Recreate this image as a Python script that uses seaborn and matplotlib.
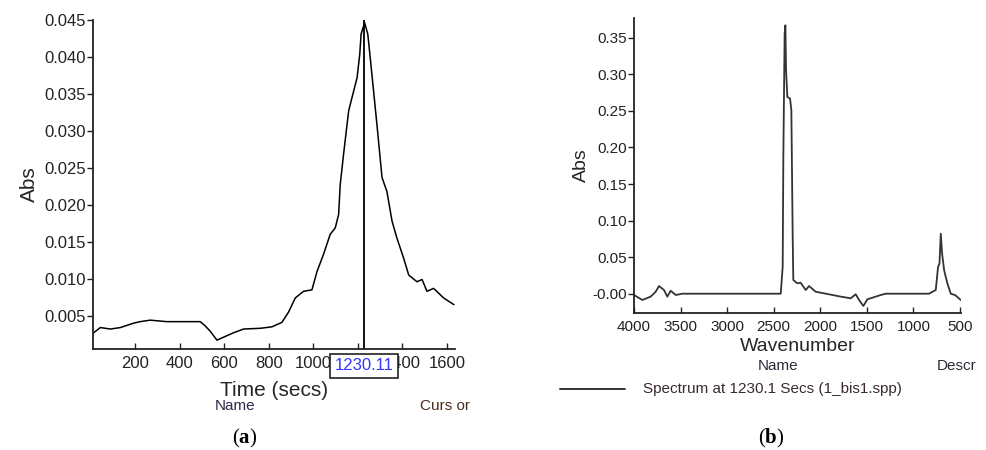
import matplotlib
matplotlib.use("Agg")
import matplotlib.pyplot as plt
import seaborn as sns
import pandas as pd

# ---- data: panel (a) time trace ----
time_s = [13, 43, 88, 133, 193, 222, 267, 342, 417, 492, 515, 537, 567, 597, 642,
          687, 762, 814, 859, 889, 897, 919, 956, 994, 1017, 1046, 1076, 1099,
          1114, 1121, 1136, 1159, 1174, 1197, 1209, 1215, 1224, 1231, 1245, 1256,
          1271, 1286, 1309, 1331, 1354, 1376, 1406, 1429, 1466, 1489, 1511, 1541,
          1586, 1632]
abs_t = [0.0027, 0.0034, 0.0032, 0.0034, 0.0040, 0.0042, 0.0044, 0.0042, 0.0042,
         0.0042, 0.0036, 0.0029, 0.0017, 0.0021, 0.0027, 0.0032, 0.0033, 0.0035,
         0.0041, 0.0055, 0.0060, 0.0074, 0.0083, 0.0085, 0.0110, 0.0133, 0.0160,
         0.0169, 0.0187, 0.0227, 0.0268, 0.0327, 0.0345, 0.0372, 0.0404, 0.0431,
         0.0440, 0.0446, 0.0431, 0.0399, 0.0354, 0.0309, 0.0237, 0.0218, 0.0178,
         0.0155, 0.0128, 0.0105, 0.0096, 0.0099, 0.0083, 0.0087, 0.0074, 0.0065]
cursor_time = 1230
cursor_label = "1230.11"

# ---- data: panel (b) spectrum ----
wavenumber = [4000, 3911, 3821, 3767, 3732, 3678, 3642, 3606, 3552, 3481, 2425,
              2404, 2397, 2383, 2375, 2368, 2354, 2325, 2311, 2297, 2290, 2247,
              2211, 2157, 2121, 2050, 1925, 1781, 1674, 1620, 1584, 1538, 1495,
              1352, 1298, 833, 761, 736, 721, 707, 693, 671, 636, 600, 554, 493]
abs_w = [-0.0018, -0.0086, -0.0040, 0.0027, 0.0105, 0.0050, -0.0040, 0.0040,
         -0.0018, 0.0, 0.0, 0.037, 0.187, 0.356, 0.367, 0.306, 0.269, 0.267,
         0.251, 0.082, 0.0187, 0.0142, 0.0150, 0.0050, 0.0105, 0.0027, -0.0004,
         -0.0040, -0.0063, -0.0008, -0.0086, -0.0168, -0.0077, -0.0018, 0.0, 0.0,
         0.005, 0.037, 0.041, 0.082, 0.055, 0.032, 0.014, 0.0, -0.0018, -0.0086]

ticks_a_x = [200, 400, 600, 800, 1000, 1200, 1400, 1600]
ticks_a_y = [0.005, 0.010, 0.015, 0.020, 0.025, 0.030, 0.035, 0.040, 0.045]
ticks_b_x = [4000, 3500, 3000, 2500, 2000, 1500, 1000, 500]
ticks_b_y = [0.00, 0.05, 0.10, 0.15, 0.20, 0.25, 0.30, 0.35]

sns.set_style("ticks")
plt.rcParams['font.family'] = ['Liberation Sans', 'DejaVu Sans']
plt.rcParams['mathtext.fontset'] = 'custom'
plt.rcParams['mathtext.rm'] = 'Liberation Serif'
plt.rcParams['mathtext.bf'] = 'Liberation Serif:bold'

W, H = 986, 450
fig = plt.figure(figsize=(W / 100, H / 100), dpi=100)
fig.patch.set_facecolor('white')

def px(x, y):
    return x / W, 1 - y / H

# ---------- panel (a) ----------
axa = fig.add_axes([93 / W, 1 - 349 / H, 362 / W, 329 / H])
dfa = pd.DataFrame({"t": time_s, "a": abs_t})
sns.lineplot(data=dfa, x="t", y="a", ax=axa, color="black", lw=1.1)
axa.set_xlim(10, 1637)
axa.set_ylim(0.0005, 0.045)
axa.set_xticks(ticks_a_x)
axa.set_xticklabels([str(v) for v in ticks_a_x])
axa.set_yticks(ticks_a_y)
axa.set_yticklabels([f"{v:.3f}" for v in ticks_a_y])
axa.axvline(cursor_time, color="black", lw=1.3)
axa.set_xlabel("Time (secs)", fontsize=15, labelpad=7)
axa.set_ylabel("Abs", fontsize=15, labelpad=4)

# ---------- panel (b) ----------
axb = fig.add_axes([634 / W, 1 - 313 / H, 327 / W, 295 / H])
dfb = pd.DataFrame({"w": wavenumber, "a": abs_w})
sns.lineplot(data=dfb, x="w", y="a", ax=axb, color="#333333", lw=1.3, sort=False)
axb.set_xlim(4000, 490)
axb.set_ylim(-0.0264, 0.377)
axb.set_xticks(ticks_b_x)
axb.set_xticklabels([str(v) for v in ticks_b_x])
axb.set_yticks(ticks_b_y)
axb.set_yticklabels([f"{v:.2f}" if v > 0 else "-0.00" for v in ticks_b_y])
axb.set_xlabel("Wavenumber", fontsize=14, labelpad=3)
axb.set_ylabel("Abs", fontsize=14, labelpad=2)

for ax, fs in ((axa, 12), (axb, 11)):
    for s in ("top", "right"):
        ax.spines[s].set_visible(False)
    for s in ("left", "bottom"):
        ax.spines[s].set_linewidth(1.3)
        ax.spines[s].set_color("#222222")
    ax.tick_params(axis="y", direction="out", length=4, width=1, labelsize=fs,
                   colors="#222222", pad=1)
    ax.tick_params(axis="x", direction="in", length=4, width=1, labelsize=fs,
                   colors="#222222", pad=5)
    ax.grid(False)

# cursor readout box
fig.text(*px(364, 366), cursor_label, ha="center", va="center", fontsize=12,
         color="#3535ff", zorder=10,
         bbox=dict(boxstyle="square,pad=0.25", fc="white", ec="#222222", lw=1.2))

# footer labels panel (a)
fig.text(*px(235, 406), "Name", ha="center", va="center", fontsize=11, color="#2a2a4a")
fig.text(*px(445, 406), "Curs or", ha="center", va="center", fontsize=11, color="#4a2a1a")
fig.text(*px(245, 438), r"$\mathrm{(}\mathbf{a}\mathrm{)}$", ha="center",
         va="center", fontsize=15, color="black")

# footer labels panel (b)
fig.text(*px(778, 366), "Name", ha="center", va="center", fontsize=11, color="#2a2a3a")
fig.text(*px(957, 366), "Descr", ha="center", va="center", fontsize=11, color="#2a2a3a")
fig.add_artist(plt.Line2D([560 / W, 625 / W], [1 - 389 / H, 1 - 389 / H],
                          color="#333333", lw=1.4))
fig.text(*px(643, 389), "Spectrum at 1230.1 Secs (1_bis1.spp)", ha="left",
         va="center", fontsize=11, color="#3a2a2a")
fig.text(*px(771, 438), r"$\mathrm{(}\mathbf{b}\mathrm{)}$", ha="center",
         va="center", fontsize=15, color="black")

fig.savefig("out.png", dpi=100, facecolor="white")
